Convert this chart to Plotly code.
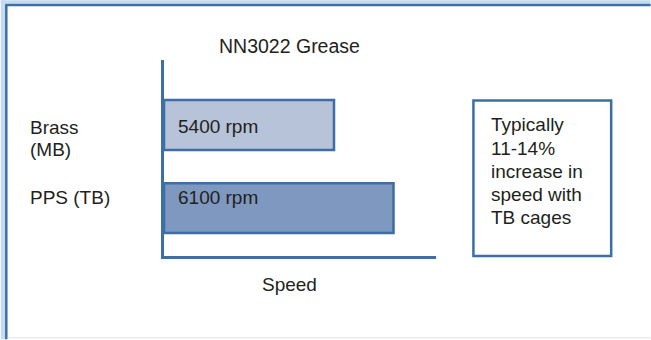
import plotly.graph_objects as go

# ---- data ----
categories = ["Brass<br>(MB)", "PPS (TB)"]
speeds = [5400, 6100]
bar_colors = ["#b7c3d8", "#7e98bf"]
title_text = "NN3022 Grease"
axis_title = "Speed"
note_lines = ["Typically", "11-14%", "increase in", "speed with", "TB cages"]
axis_min, axis_max = 3400, 6600

W, H = 651, 340
L, R, T, B = 163.5, 436, 60, 256.5  # plot area in pixels
BLUE = "#3d6ea6"
TXT = "#231f20"
FONT = "Liberation Sans, Arial, sans-serif"
FS = 19

def px(x):
    return (x - L) / (R - L)

def py(y):
    return (B - y) / (B - T)

cat_ids = [c.replace("<br>", " ") for c in categories]

fig = go.Figure()
fig.add_trace(go.Bar(
    y=cat_ids, x=[s - axis_min for s in speeds], base=axis_min,
    orientation="h", width=0.6,
    marker=dict(color=bar_colors, line=dict(color=BLUE, width=2.5)),
    hoverinfo="skip",
))

fig.update_layout(
    width=W, height=H,
    margin=dict(l=L, r=W - R, t=T, b=H - B, pad=0),
    paper_bgcolor="white", plot_bgcolor="white",
    showlegend=False,
    font=dict(family=FONT, color=TXT, size=FS),
    xaxis=dict(range=[axis_min, axis_max], showgrid=False, zeroline=False,
               showticklabels=False, ticks="", showline=True,
               linecolor=BLUE, linewidth=2.5),
    yaxis=dict(type="category", categoryorder="array",
               categoryarray=list(reversed(cat_ids)),
               range=[-0.575, 1.78], showgrid=False, zeroline=False,
               showticklabels=False, ticks="", showline=True,
               linecolor=BLUE, linewidth=2.5),
)

anns = []
# category labels (one annotation per line)
label_first_shift = [-3, 10.5]
for cid, lab, sh in zip(cat_ids, categories, label_first_shift):
    for i, line in enumerate(lab.split("<br>")):
        anns.append(dict(text=line, xref="paper", x=px(27), yref="y", y=cid,
                         xanchor="left", yanchor="middle", align="left",
                         yshift=sh - 22 * i, showarrow=False))
# bar value labels
val_shift = [-2, 10.5]
for cid, s, sh in zip(cat_ids, speeds, val_shift):
    anns.append(dict(text=f"{s} rpm", xref="x", x=axis_min, yref="y", y=cid,
                     xanchor="left", yanchor="middle", xshift=11.5, yshift=sh,
                     showarrow=False))
# title & axis title
anns.append(dict(text=title_text, xref="paper", x=px(289), yref="paper", y=py(46),
                 xanchor="center", yanchor="middle", showarrow=False,
                 font=dict(size=19.5)))
anns.append(dict(text=axis_title, xref="paper", x=px(289), yref="paper", y=py(285),
                 xanchor="center", yanchor="middle", showarrow=False))
# note box text
for i, line in enumerate(note_lines):
    anns.append(dict(text=line, xref="paper", x=px(489), yref="paper",
                     y=py(125 + 23.25 * i), xanchor="left", yanchor="middle",
                     align="left", showarrow=False))
fig.update_layout(annotations=anns)

shapes = [
    # note box
    dict(type="rect", xref="paper", yref="paper", x0=px(473.5), x1=px(611.5),
         y0=py(256.5), y1=py(100.5), line=dict(color=BLUE, width=2.5)),
    # outer frame: light band left/top
    dict(type="rect", xref="paper", yref="paper", x0=px(0), x1=px(4.5),
         y0=py(H), y1=py(0), line=dict(width=0), fillcolor="#c4dcf2", layer="below"),
    dict(type="rect", xref="paper", yref="paper", x0=px(0), x1=px(W),
         y0=py(3.5), y1=py(0), line=dict(width=0), fillcolor="#c4dcf2", layer="below"),
    dict(type="line", xref="paper", yref="paper", x0=px(5.5), x1=px(5.5),
         y0=py(H), y1=py(4.5), line=dict(color=BLUE, width=2.5)),
    dict(type="line", xref="paper", yref="paper", x0=px(4.5), x1=px(W),
         y0=py(4.8), y1=py(4.8), line=dict(color=BLUE, width=2.5)),
    dict(type="line", xref="paper", yref="paper", x0=px(7), x1=px(W),
         y0=py(338.5), y1=py(338.5), line=dict(color="#ececec", width=1.5)),
]
fig.update_layout(shapes=shapes)

fig.write_html("out.html", config={"displayModeBar": False},
               post_script="document.body.style.margin='0';document.body.style.overflow='hidden';")
